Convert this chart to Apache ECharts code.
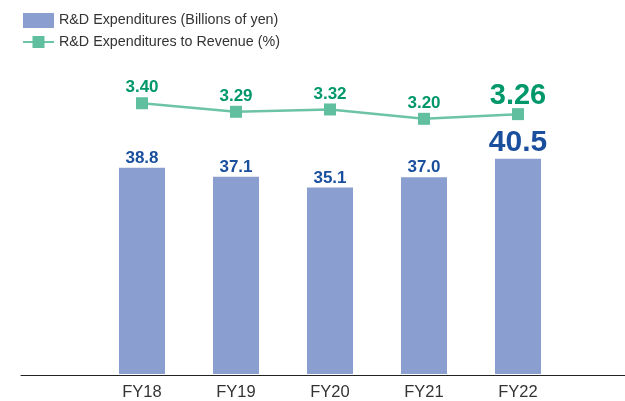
<!DOCTYPE html>
<html>
<head>
<meta charset="utf-8">
<script src="https://cdn.jsdelivr.net/npm/echarts@6/dist/echarts.min.js"></script>
<style>
  html, body { margin: 0; padding: 0; background: #fff; }
  #main { width: 625px; height: 401px; }
</style>
</head>
<body>
<div id="main"></div>
<script>
// data
var categories = ['FY18', 'FY19', 'FY20', 'FY21', 'FY22'];
var rdExpenditures = [38.8, 37.1, 35.1, 37.0, 40.5];   // billions of yen
var rdToRevenue = [3.40, 3.29, 3.32, 3.20, 3.26];      // %

var font = "'Liberation Sans', Arial, sans-serif";
var last = categories.length - 1;

var chart = echarts.init(document.getElementById('main'));

chart.setOption({
  animation: false,
  color: ['#8a9ed0', '#6cc3a6'],
  legend: {
    orient: 'vertical',
    left: 22,
    top: 13,
    padding: 0,
    itemWidth: 31,
    itemHeight: 15,
    itemGap: 7,
    textStyle: { fontFamily: font, fontSize: 14.3, color: '#333' },
    data: [
      { name: 'R&D Expenditures (Billions of yen)', icon: 'rect' },
      { name: 'R&D Expenditures to Revenue (%)' }
    ]
  },
  grid: [
    // only there to draw the long base line
    { left: 21, right: 0, top: 55, bottom: 26 },
    { left: 95, right: 60, top: 55, bottom: 26 }
  ],
  xAxis: [
    {
      gridIndex: 0, type: 'value', min: 0, max: 1,
      axisLine: { show: true, lineStyle: { color: '#222', width: 1 } },
      axisTick: { show: false }, axisLabel: { show: false }, splitLine: { show: false }
    },
    {
      gridIndex: 1, type: 'category', data: categories,
      axisLine: { show: false }, axisTick: { show: false },
      axisLabel: { margin: 10, fontFamily: font, fontSize: 16.5, color: '#333' }
    }
  ],
  yAxis: [
    { gridIndex: 0, type: 'value', show: false, min: 0, max: 1, splitLine: { show: false } },
    { gridIndex: 1, type: 'value', show: false, min: 0, max: 60, splitLine: { show: false } },
    { gridIndex: 1, type: 'value', show: false, min: -0.08, max: 4.02, splitLine: { show: false } }
  ],
  series: [
    {
      name: 'R&D Expenditures (Billions of yen)',
      type: 'bar',
      xAxisIndex: 1, yAxisIndex: 1,
      barWidth: 46,
      itemStyle: { color: '#8a9ed0' },
      label: {
        show: true, position: 'top', distance: 1,
        fontFamily: font, fontWeight: 'bold', fontSize: 17, color: '#1a4f9e',
        formatter: function (p) { return p.value.toFixed(1); }
      },
      data: rdExpenditures.map(function (v, i) {
        return i === last
          ? { value: v, label: { fontSize: 30, distance: 1 } }
          : v;
      })
    },
    {
      name: 'R&D Expenditures to Revenue (%)',
      type: 'line',
      xAxisIndex: 1, yAxisIndex: 2,
      symbol: 'rect',
      symbolSize: 12,
      lineStyle: { color: '#6cc3a6', width: 2.5 },
      itemStyle: { color: '#5fbf9f' },
      label: {
        show: true, position: 'top', distance: 1,
        fontFamily: font, fontWeight: 'bold', fontSize: 17, color: '#00976a',
        formatter: function (p) { return p.value.toFixed(2); }
      },
      data: rdToRevenue.map(function (v, i) {
        return i === last
          ? { value: v, label: { fontSize: 29, distance: -2 } }
          : v;
      })
    }
  ]
});
</script>
</body>
</html>
